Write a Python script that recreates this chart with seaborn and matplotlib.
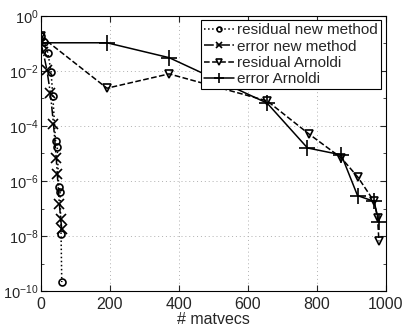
import numpy as np
import matplotlib
matplotlib.use("Agg")
import matplotlib.pyplot as plt
import matplotlib.ticker as mticker
import seaborn as sns

# data (x = matvecs, y = log10 of the norm)
res_new_x = [2, 11, 21, 30, 35, 43, 48, 52, 56, 59, 61]
res_new_log = [-0.74, -0.96, -1.36, -2.03, -2.90, -4.53, -4.75, -6.20, -6.41, -7.92, -9.67]

err_new_x = [0, 7, 18, 28, 37, 45, 48, 54, 58, 61]
err_new_log = [-0.98, -1.30, -1.97, -2.81, -3.92, -5.17, -5.74, -6.83, -7.38, -7.74]

res_arn_x = [0, 192, 372, 656, 777, 871, 919, 966, 976, 980]
res_arn_log = [-0.74, -2.63, -2.11, -3.09, -4.29, -5.16, -5.86, -6.74, -7.34, -8.19]

err_arn_x = [0, 192, 372, 656, 773, 871, 918, 966, 980]
err_arn_log = [-0.98, -0.98, -1.52, -3.17, -4.80, -5.05, -6.53, -6.74, -7.49]

labels = ["residual new method", "error new method", "residual Arnoldi", "error Arnoldi"]
ytick_exp = [-10, -8, -6, -4, -2, 0]

sns.set_style("ticks")
plt.rcParams["font.family"] = ["Liberation Sans", "DejaVu Sans"]
plt.rcParams["mathtext.fontset"] = "custom"
plt.rcParams["mathtext.rm"] = "Liberation Sans"
plt.rcParams["mathtext.it"] = "Liberation Sans"

fig = plt.figure(figsize=(4.07, 3.29), dpi=100)
ax = fig.add_axes([0.1, 0.115, 0.848, 0.837])

series = [
    (res_new_x, res_new_log, "o", ":", 5),
    (err_new_x, err_new_log, "x", "-.", 7),
    (res_arn_x, res_arn_log, "v", "--", 6),
    (err_arn_x, err_arn_log, "+", "-", 11),
]
for (xs, ys, mk, ls, ms), lab in zip(series, labels):
    sns.lineplot(x=xs, y=10.0 ** np.array(ys), ax=ax, color="black", marker=mk,
                 linestyle=ls, markersize=ms, markerfacecolor="none",
                 markeredgecolor="black", markeredgewidth=1.2, linewidth=1.1,
                 estimator=None, sort=False, label=lab)

ax.set_yscale("log")
ax.set_xlim(0, 1000)
ax.set_ylim(1e-10, 1)
ax.set_xticks([0, 200, 400, 600, 800, 1000])
ax.set_yticks([10.0 ** k for k in ytick_exp])
ax.set_yticklabels([f"$10^{{{k}}}$" for k in ytick_exp])
ax.yaxis.set_minor_locator(mticker.FixedLocator([10.0 ** k for k in range(-9, 0, 2)]))
ax.yaxis.set_minor_formatter(mticker.NullFormatter())
ax.set_xlabel("# matvecs", fontsize=11.5, labelpad=0)
ax.tick_params(direction="in", top=True, right=True, labelsize=11.5, length=4, width=0.8)
ax.tick_params(axis="x", pad=4)
ax.tick_params(axis="y", pad=1.5, labelsize=10.5)
ax.tick_params(which="minor", direction="in", right=True, length=2)
ax.grid(True, which="major", linestyle=(0, (1, 3)), color="#b0b0b0", linewidth=0.7)
for sp in ax.spines.values():
    sp.set_linewidth(0.8)
    sp.set_color("black")

leg = ax.legend(loc="upper right", fontsize=11, frameon=True, fancybox=False,
                edgecolor="black", framealpha=1, handlelength=2.0,
                borderpad=0.2, labelspacing=0.15, handletextpad=0.2,
                borderaxespad=0.3, markerscale=0.7)
leg.get_frame().set_linewidth(0.8)

fig.savefig("out.png", dpi=100)
